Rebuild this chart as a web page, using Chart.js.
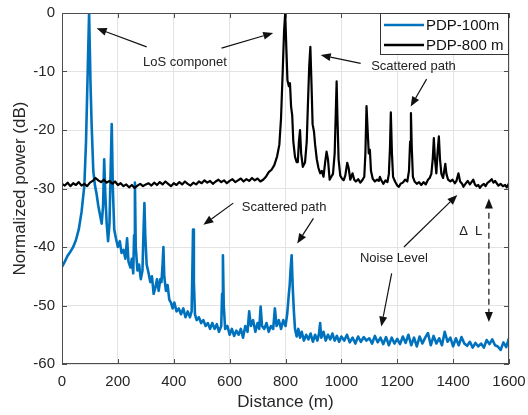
<!DOCTYPE html>
<html>
<head>
<meta charset="utf-8">
<title>PDP</title>
<script src="https://cdn.jsdelivr.net/npm/chart.js@4.4.0/dist/chart.umd.min.js"></script>
<style>
  html, body { margin: 0; padding: 0; background: #fff; }
  #wrap { width: 528px; height: 415px; }
</style>
</head>
<body>
<div id="wrap"><canvas id="pdpChart" width="528" height="415"></canvas></div>
<script>
// series names
const seriesLabels = ["PDP-100m", "PDP-800 m"];

// PDP-100m: distance (m) and normalized power (dB)
const dist100 = [
  0, 10, 20, 30, 40, 50, 60, 70, 80, 86,
  92, 97, 102, 106, 112, 118, 124, 130, 136, 142,
  147, 151, 155, 160, 165, 170, 174, 178, 182, 187,
  193, 200, 207, 213, 220, 227, 233, 238, 245, 250,
  255, 258, 261, 264, 270, 276, 282, 288, 292, 295,
  298, 303, 310, 316, 322, 328, 334, 340, 346, 352,
  356, 360, 363, 366, 372, 378, 384, 390, 396, 402,
  410, 418, 426, 434, 442, 450, 458, 464, 467, 469,
  472, 476, 482, 490, 498, 506, 514, 522, 530, 538,
  546, 554, 562, 570, 573, 576, 579, 584, 592, 600,
  608, 616, 624, 632, 640, 648, 656, 664, 670, 676,
  684, 692, 700, 706, 711, 716, 724, 732, 740, 748,
  756, 762, 768, 776, 784, 792, 800, 806, 812, 815,
  818, 822, 826, 830, 834, 840, 846, 852, 858, 866,
  874, 882, 890, 898, 906, 914, 920, 924, 928, 936,
  944, 952, 960, 968, 976, 984, 992, 1000, 1010, 1020,
  1030, 1040, 1050, 1060, 1070, 1080, 1090, 1100, 1110, 1120,
  1130, 1140, 1150, 1160, 1170, 1180, 1190, 1200, 1210, 1220,
  1230, 1240, 1250, 1260, 1270, 1280, 1290, 1300, 1310, 1320,
  1330, 1340, 1350, 1360, 1370, 1380, 1390, 1400, 1410, 1420,
  1430, 1440, 1450, 1460, 1470, 1480, 1490, 1500, 1510, 1520,
  1530, 1540, 1550, 1560, 1570, 1580, 1590, 1600
];
const power100 = [
  -43.4, -42.5, -41.5, -40.8, -40, -38.8, -37, -34, -29.5, -22,
  -10, 0, -12, -19, -27, -29.5, -31, -33, -34.5, -36,
  -33, -25, -31, -36, -39, -36, -27, -19, -30, -37,
  -38.5, -40, -39, -41, -40.5, -42, -38.5, -42.5, -43.5, -42,
  -44.5, -38, -29, -40, -44, -43, -45.5, -44, -37, -32.5,
  -38, -43, -44.5, -46, -45, -48, -47, -45.5, -47.5, -45.5,
  -46, -43, -40, -45, -47.5, -46.5, -49, -49.5, -50.5, -49.5,
  -51, -50.5, -51.5, -50.5, -52, -51, -52, -51, -43, -37,
  -46, -51.5, -52.5, -52, -53, -52.5, -53.5, -53, -54, -53,
  -54, -53.2, -54.5, -53.5, -48, -41.4, -50, -54, -53.5, -55,
  -54, -55.2, -54.3, -55, -54, -55.5, -53.5, -54.5, -51, -53.5,
  -52.5, -54.5, -53, -54, -50.2, -53.5, -54, -53, -54.5, -53.5,
  -54, -50.5, -53.5, -52.5, -54, -52.5, -53.5, -51.5, -48, -46.5,
  -44, -41.4, -47, -51, -54, -55.3, -54, -55.5, -54.5, -56,
  -55, -55.8, -54.8, -56.2, -55, -56, -54.8, -53, -55.5, -54.5,
  -56, -55, -55.8, -54.8, -56, -55.2, -56.2, -55.3, -56, -55,
  -56.3, -55.5, -56.5, -55.3, -56.2, -55.4, -56, -55.6, -56.5, -55.2,
  -56.3, -55.5, -56.6, -55.4, -56.8, -55.5, -56.5, -55.7, -56.6, -55.3,
  -56.4, -55, -56.8, -55.5, -57, -55.3, -56.5, -55.5, -54.7, -56.8,
  -55.2, -56.5, -55.6, -56.8, -54.5, -56.2, -55.5, -57, -55.6, -56.8,
  -55.4, -56.5, -56.9, -56.2, -57.2, -56.4, -57, -56.5, -57.2, -55.9,
  -56.6, -55.8, -56.8, -57, -57.6, -56.3, -57.1, -55.6
];

// PDP-800 m: distance (m) and normalized power (dB)
const dist800 = [
  0, 10, 20, 30, 40, 50, 60, 70, 80, 90,
  100, 110, 120, 130, 140, 150, 160, 170, 180, 190,
  200, 210, 220, 230, 240, 250, 260, 270, 280, 290,
  300, 310, 320, 330, 340, 350, 360, 370, 380, 390,
  400, 410, 420, 430, 440, 450, 460, 470, 480, 490,
  500, 510, 520, 530, 540, 550, 560, 570, 580, 590,
  600, 610, 620, 630, 640, 650, 660, 670, 680, 690,
  700, 710, 720, 730, 740, 750, 760, 770, 778, 784,
  790, 795, 799, 803, 807, 812, 816, 820, 824, 828,
  834, 840, 844, 848, 852, 856, 862, 870, 876, 880,
  885, 889, 893, 897, 902, 906, 912, 918, 924, 930,
  936, 942, 947, 952, 958, 964, 970, 976, 980, 983,
  986, 990, 996, 1002, 1008, 1014, 1021, 1026, 1032, 1040,
  1046, 1052, 1060, 1068, 1076, 1082, 1086, 1090, 1094, 1098,
  1102, 1106, 1112, 1120, 1128, 1134, 1138, 1143, 1150, 1158,
  1165, 1170, 1174, 1177, 1181, 1185, 1192, 1200, 1206, 1212,
  1220, 1228, 1236, 1242, 1246, 1249, 1252, 1256, 1262, 1270,
  1278, 1286, 1294, 1302, 1310, 1316, 1322, 1327, 1331, 1335,
  1340, 1344, 1349, 1353, 1358, 1364, 1368, 1372, 1376, 1382,
  1390, 1398, 1406, 1412, 1419, 1425, 1432, 1437, 1444, 1452,
  1460, 1466, 1472, 1478, 1484, 1490, 1496, 1502, 1510, 1516,
  1522, 1530, 1538, 1544, 1550, 1556, 1562, 1570, 1578, 1586,
  1592, 1600
];
const power800 = [
  -29.2, -29.5, -29, -29.6, -29.1, -29.4, -28.9, -29.5, -29.2, -29.6,
  -29, -28.7, -28.2, -28.6, -28.9, -28.5, -29, -28.7, -29.2, -28.8,
  -29.4, -29.1, -29.6, -29.3, -29.8, -29.4, -29.9, -29.5, -29.2, -29.6,
  -29.3, -29.1, -29.5, -29, -29.4, -28.9, -29.3, -28.8, -29.2, -29.6,
  -29.1, -29.4, -28.9, -29.3, -28.8, -29.2, -29.5, -29, -29.3, -28.8,
  -29.1, -28.6, -29, -28.7, -29.2, -28.8, -28.5, -28.9, -28.6, -29.1,
  -28.7, -28.4, -28.9, -28.6, -28.3, -28.8, -28.4, -28.7, -28.2, -28.6,
  -28.3, -28.8, -28.5, -28, -27.2, -26.8, -26, -24.5, -22.5, -18,
  -10, -3, 0, -6, -11.5, -12.5, -12, -16, -17.5, -22,
  -24.6, -25.5, -25.5, -22, -20, -24, -26.3, -25.5, -22, -16,
  -9, -5.8, -12, -19, -20.3, -22.5, -25, -26.5, -27.4, -27,
  -28, -25.5, -23.7, -25, -28.5, -28, -27.5, -24, -17, -11.7,
  -18, -25, -27.8, -28.3, -28.6, -27.8, -25.6, -26.5, -28.5, -27.4,
  -28.5, -28.8, -28.4, -29, -28.5, -28, -24, -15.9, -20, -24,
  -23.4, -27, -28.3, -28.8, -28.5, -28.7, -28, -28.6, -29.2, -28.6,
  -28.9, -27.5, -23, -17, -24, -28, -28.8, -29.5, -29.7, -29.2,
  -29, -28.5, -28.8, -27, -22, -17.1, -23, -28, -28.8, -29.2,
  -28.9, -29.4, -28.9, -29.3, -28.5, -28.2, -27.5, -25, -21.4, -25,
  -27.4, -24, -21.1, -25, -27.5, -28.2, -27, -25.8, -27.5, -28.5,
  -28.8, -28.5, -29.1, -28.7, -27.4, -28.8, -29.2, -29.7, -29.2, -28.7,
  -29.3, -28.9, -28.5, -29.3, -29.6, -29.4, -29.9, -29.5, -29.2, -29.6,
  -29.1, -28.8, -28.4, -29, -28.7, -29.1, -29.5, -29.2, -29.6, -29.4,
  -29.8, -29.1
];

// axis ticks
const xTicks = [0, 200, 400, 600, 800, 1000, 1200, 1400, 1600];
const yTicks = [-60, -50, -40, -30, -20, -10, 0];

// text notes and arrows, in data units (distance, dB)
const notes = [
  { text: "LoS componet", x: 440, y: -8.4 },
  { text: "Scattered path", x: 1258, y: -9.1 },
  { text: "Scattered path", x: 795, y: -33.3 },
  { text: "Noise Level", x: 1188, y: -41.9 },
  { text: "\u0394  L", x: 1463, y: -37.4 }
];
const arrows = [
  { from: [303, -5.8], to: [124, -2.6] },
  { from: [571, -6.0], to: [756, -3.4] },
  { from: [1069, -8.6], to: [926, -7.2] },
  { from: [1305, -11.3], to: [1248, -16.0] },
  { from: [613, -32.5], to: [506, -36.2] },
  { from: [900, -35.1], to: [842, -39.4] },
  { from: [1224, -40.0], to: [1415, -31.1] },
  { from: [1180, -44.5], to: [1143, -53.6] },
  { from: [1528, -42], to: [1528, -31.7], dashed: true },
  { from: [1528, -42], to: [1528, -52.8], dashed: true }
];

const FONT = "'Liberation Sans', Arial, Helvetica, sans-serif";

function toPoints(xs, ys) {
  return xs.map((d, i) => ({ x: d, y: ys[i] }));
}

function drawArrow(ctx, x1, y1, x2, y2, dashed) {
  const ang = Math.atan2(y2 - y1, x2 - x1);
  const hl = 10, hw = 4;
  const bx = x2 - hl * Math.cos(ang), by = y2 - hl * Math.sin(ang);
  ctx.save();
  ctx.strokeStyle = "#111";
  ctx.fillStyle = "#111";
  ctx.lineWidth = 1.2;
  if (dashed) ctx.setLineDash([6, 4]);
  ctx.beginPath();
  ctx.moveTo(x1, y1);
  ctx.lineTo(bx, by);
  ctx.stroke();
  ctx.setLineDash([]);
  ctx.beginPath();
  ctx.moveTo(x2, y2);
  ctx.lineTo(bx + hw * Math.sin(ang), by - hw * Math.cos(ang));
  ctx.lineTo(bx - hw * Math.sin(ang), by + hw * Math.cos(ang));
  ctx.closePath();
  ctx.fill();
  ctx.restore();
}

const overlayPlugin = {
  id: "overlay",
  afterDatasetsDraw(chart) {
    const { ctx, chartArea: a, scales: { x, y } } = chart;
    ctx.save();

    // box around the axes + inward ticks
    ctx.strokeStyle = "#4d4d4d";
    ctx.lineWidth = 1;
    ctx.strokeRect(a.left + 0.5, a.top + 0.5, a.right - a.left - 1, a.bottom - a.top - 1);
    ctx.beginPath();
    xTicks.forEach(v => {
      const px = Math.round(x.getPixelForValue(v)) + 0.5;
      ctx.moveTo(px, a.bottom); ctx.lineTo(px, a.bottom - 5);
      ctx.moveTo(px, a.top); ctx.lineTo(px, a.top + 5);
    });
    yTicks.forEach(v => {
      const py = Math.round(y.getPixelForValue(v)) + 0.5;
      ctx.moveTo(a.left, py); ctx.lineTo(a.left + 5, py);
      ctx.moveTo(a.right, py); ctx.lineTo(a.right - 5, py);
    });
    ctx.stroke();

    // annotations
    arrows.forEach(ar => {
      drawArrow(ctx,
        x.getPixelForValue(ar.from[0]), y.getPixelForValue(ar.from[1]),
        x.getPixelForValue(ar.to[0]), y.getPixelForValue(ar.to[1]), ar.dashed);
    });
    ctx.fillStyle = "#222";
    ctx.font = "13px " + FONT;
    ctx.textAlign = "center";
    ctx.textBaseline = "middle";
    notes.forEach(n => {
      ctx.fillText(n.text, x.getPixelForValue(n.x), y.getPixelForValue(n.y));
    });

    // legend box, top right inside the axes
    const lw = 129, lh = 42;
    const lx = a.right - lw, ly = a.top;
    ctx.fillStyle = "#fff";
    ctx.fillRect(lx, ly, lw, lh);
    ctx.strokeStyle = "#333";
    ctx.lineWidth = 1;
    ctx.strokeRect(lx + 0.5, ly + 0.5, lw - 1, lh - 1);
    ctx.font = "15px " + FONT;
    ctx.textAlign = "left";
    chart.data.datasets.forEach((ds, i) => {
      const yy = ly + 12 + i * 20;
      ctx.strokeStyle = ds.borderColor;
      ctx.lineWidth = 2.5;
      ctx.beginPath();
      ctx.moveTo(lx + 4, yy);
      ctx.lineTo(lx + 44, yy);
      ctx.stroke();
      ctx.fillStyle = "#111";
      ctx.fillText(ds.label, lx + 46, yy + 1);
    });

    ctx.restore();
  }
};

new Chart(document.getElementById("pdpChart").getContext("2d"), {
  type: "line",
  data: {
    datasets: [
      {
        label: seriesLabels[0],
        data: toPoints(dist100, power100),
        borderColor: "#0072BD",
        borderWidth: 2.6,
        pointRadius: 0,
        tension: 0,
        borderJoinStyle: "round",
        order: 1
      },
      {
        label: seriesLabels[1],
        data: toPoints(dist800, power800),
        borderColor: "#000000",
        borderWidth: 2.2,
        pointRadius: 0,
        tension: 0,
        borderJoinStyle: "round",
        order: 0
      }
    ]
  },
  options: {
    responsive: false,
    animation: false,
    events: [],
    layout: { padding: { left: 0, right: 19, top: 13, bottom: 0 } },
    plugins: { legend: { display: false }, tooltip: { enabled: false } },
    scales: {
      x: {
        type: "linear",
        min: 0,
        max: 1600,
        afterBuildTicks: s => { s.ticks = xTicks.map(v => ({ value: v })); },
        afterFit: s => { s.height = 51; s.paddingLeft = 0; s.paddingRight = 0; },
        grid: { color: "#e3e3e3", drawTicks: false },
        border: { display: false },
        ticks: { color: "#262626", font: { family: FONT, size: 15 }, padding: 9, maxRotation: 0, callback: v => String(v) },
        title: { display: true, text: "Distance (m)", color: "#262626", font: { family: FONT, size: 17 }, padding: { top: 2, bottom: 2 } }
      },
      y: {
        min: -60,
        max: 0,
        afterBuildTicks: s => { s.ticks = yTicks.map(v => ({ value: v })); },
        afterFit: s => { s.width = 62; s.paddingTop = 0; s.paddingBottom = 0; },
        grid: { color: "#e3e3e3", drawTicks: false },
        border: { display: false },
        ticks: { color: "#262626", font: { family: FONT, size: 15 }, padding: 7, callback: v => String(v) },
        title: { display: true, text: "Normalized power (dB)", color: "#262626", font: { family: FONT, size: 17 }, padding: { top: 10, bottom: 0 } }
      }
    }
  },
  plugins: [overlayPlugin]
});
</script>
</body>
</html>
